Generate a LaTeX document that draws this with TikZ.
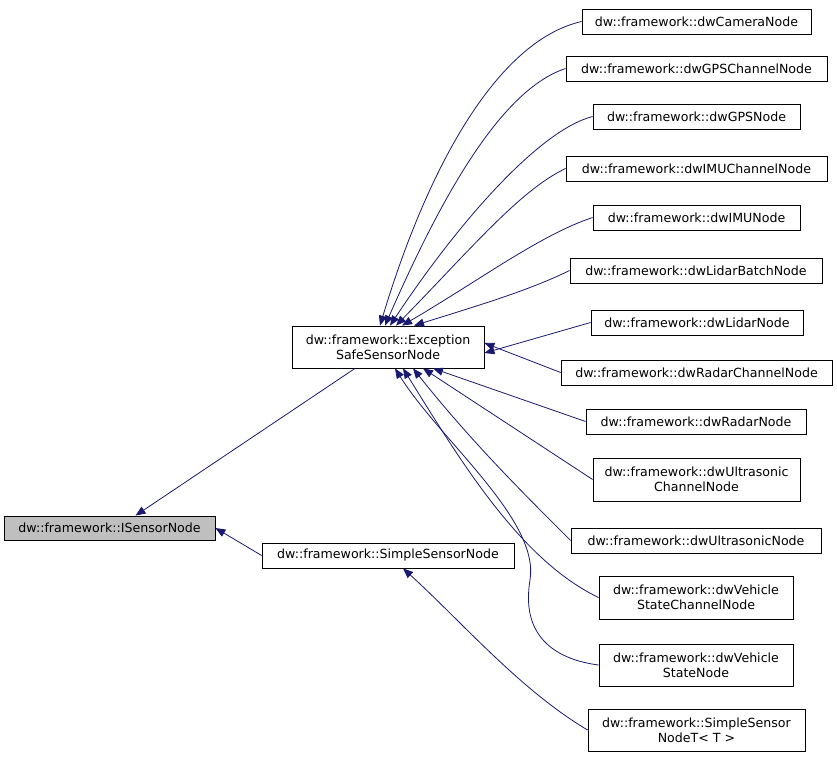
\documentclass[tikz,border=0pt]{standalone}
\usepackage{fontspec}
\setmainfont{DejaVu Sans}
\usetikzlibrary{arrows.meta}
\begin{document}
\begin{tikzpicture}[x=1pt,y=-1pt,
  box/.style={draw=black,fill=white,line width=0.8pt,align=center,inner sep=0pt,font=\fontsize{12.6}{15}\selectfont},
  edge/.style={draw={rgb,255:red,25;green,25;blue,112},line width=0.8pt,{Triangle[width=8pt,length=10pt]}-}]
\useasboundingbox (0,0) rectangle (837,757);
\newcommand{\bx}[6]{\node[box,minimum width=#3-#2,minimum height=#5-#4] (#1) at ({(#2+#3)/2},{(#4+#5)/2}) {#6};}
\node[box,fill={rgb,255:red,191;green,191;blue,191},minimum width=211,minimum height=24] (isn) at (109.5,528) {dw::framework::ISensorNode};
\bx{esn}{292}{484}{326}{368}{dw::framework::Exception\\SafeSensorNode}
\bx{ssn}{262}{514}{543}{568}{dw::framework::SimpleSensorNode}
\bx{cam}{582}{811}{9}{34}{dw::framework::dwCameraNode}
\bx{gpsc}{566}{827}{56}{81}{dw::framework::dwGPSChannelNode}
\bx{gps}{593}{800}{104}{129}{dw::framework::dwGPSNode}
\bx{imuc}{566}{827}{156}{181}{dw::framework::dwIMUChannelNode}
\bx{imu}{593}{800}{205}{230}{dw::framework::dwIMUNode}
\bx{lb}{570}{822}{258}{283}{dw::framework::dwLidarBatchNode}
\bx{lid}{591}{803}{310}{335}{dw::framework::dwLidarNode}
\bx{rc}{561}{832}{360}{385}{dw::framework::dwRadarChannelNode}
\bx{rad}{586}{806}{409}{434}{dw::framework::dwRadarNode}
\bx{uc}{593}{800}{458}{501}{dw::framework::dwUltrasonic\\ChannelNode}
\bx{ult}{571}{821}{528}{553}{dw::framework::dwUltrasonicNode}
\bx{vsc}{599}{793}{576}{619}{dw::framework::dwVehicle\\StateChannelNode}
\bx{vs}{599}{793}{644}{686}{dw::framework::dwVehicle\\StateNode}
\bx{sst}{588}{805}{709}{751}{dw::framework::SimpleSensor\\NodeT< T >}
% edges
\draw[edge] ([xshift=26]isn.north) -- ([xshift=-33]esn.south);
\draw[edge] (isn.east) -- (ssn.west);
\draw[edge] ([xshift=-8]esn.north) .. controls (430,160) and (500,40) .. (cam.west);
\draw[edge] ([xshift=-3]esn.north) .. controls (440,200) and (500,90) .. (gpsc.west);
\draw[edge] ([xshift=2]esn.north) .. controls (460,220) and (540,130) .. (gps.west);
\draw[edge] ([xshift=8]esn.north) .. controls (470,250) and (520,190) .. (imuc.west);
\draw[edge] ([xshift=14]esn.north) .. controls (480,280) and (540,235) .. (imu.west);
\draw[edge] ([xshift=26]esn.north) .. controls (480,305) and (530,290) .. (lb.west);
\draw[edge] ([yshift=-6]esn.east) -- (lid.west);
\draw[edge] ([yshift=4]esn.east) -- (rc.west);
\draw[edge] ([xshift=45]esn.south) -- (rad.west);
\draw[edge] ([xshift=35]esn.south) -- (uc.west);
\draw[edge] ([xshift=25]esn.south) .. controls (470,440) and (520,490) .. (ult.west);
\draw[edge] ([xshift=15]esn.south) .. controls (460,460) and (520,560) .. (vsc.west);
\draw[edge] ([xshift=7]esn.south) .. controls (440,440) and (540,520) .. (530,580) .. controls (520,640) and (560,660) .. (vs.west);
\draw[edge] ([xshift=15]ssn.south) .. controls (460,620) and (520,690) .. (sst.west);
\end{tikzpicture}
\end{document}
